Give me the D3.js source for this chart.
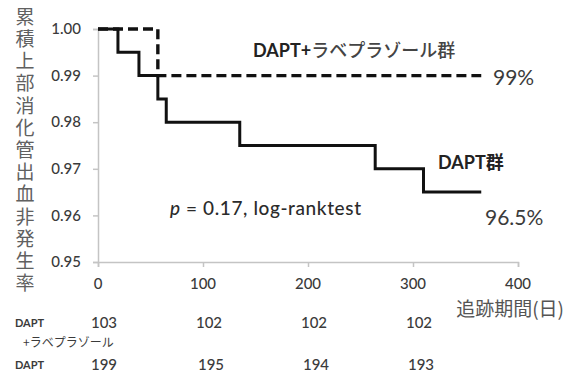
<!DOCTYPE html>
<html>
<head>
<meta charset="utf-8">
<script src="https://cdn.jsdelivr.net/npm/d3@7"></script>
<style>
  html, body { margin: 0; padding: 0; background: #fff; }
  svg { display: block; }
</style>
</head>
<body>
<svg id="chart" width="571" height="376"></svg>
<script>
// Kaplan–Meier curves: freedom from upper GI bleeding
const daptDays      = [0, 19, 39, 57, 65, 135, 264, 310, 365];
const daptSurv      = [1.000, 0.995, 0.990, 0.985, 0.980, 0.975, 0.970, 0.965, 0.965];
const comboDays     = [0, 57, 365];
const comboSurv     = [1.000, 0.990, 0.990];

const xTicks = [0, 100, 200, 300, 400];
const yTicks = [0.95, 0.96, 0.97, 0.98, 0.99, 1.00];

// numbers at risk
const riskDays  = [0, 100, 200, 300];
const riskCombo = [103, 102, 102, 102];
const riskDapt  = [199, 195, 194, 193];

const yTitle = "累積上部消化管出血非発生率";
const xTitle = "追跡期間(日)";

const svg = d3.select("#chart");
const latin = "Lato, 'Open Sans', sans-serif";
const cjk = "'Noto Sans CJK JP', sans-serif";
const textCol = "#3b3b3b";

const x = d3.scaleLinear().domain([0, 400]).range([98, 518]);
const y = d3.scaleLinear().domain([0.95, 1.00]).range([262, 29]);

// axes
const axisCol = "#c4c4c4";
const gx = svg.append("g").attr("transform", `translate(0,${y(0.95)})`)
  .call(d3.axisBottom(x).tickValues(xTicks).tickSize(5).tickFormat(""));
const gy = svg.append("g").attr("transform", `translate(${x(0)},0)`)
  .call(d3.axisLeft(y).tickValues(yTicks).tickSize(5).tickFormat(""));
[gx, gy].forEach(g => {
  g.selectAll("path, line").attr("stroke", axisCol).attr("stroke-width", 1.5);
});

// tick labels
svg.append("g").selectAll("text").data(yTicks).join("text")
  .attr("x", 81).attr("y", d => y(d)).attr("dy", "0.35em")
  .attr("text-anchor", "end")
  .attr("font-family", latin).attr("font-size", 15).attr("font-weight", 500)
  .attr("fill", textCol)
  .text(d => d3.format(".2f")(d));

svg.append("g").selectAll("text").data(xTicks).join("text")
  .attr("x", d => x(d)).attr("y", 284).attr("dy", "0.35em")
  .attr("text-anchor", "middle")
  .attr("font-family", latin).attr("font-size", 15).attr("font-weight", 500)
  .attr("fill", textCol)
  .text(d => d);

// axis titles
svg.append("text")
  .attr("x", 25).attr("y", 7)
  .attr("writing-mode", "vertical-rl")
  .attr("letter-spacing", 3.2)
  .attr("font-family", cjk).attr("font-size", 19).attr("fill", "#606060")
  .text(yTitle);

svg.append("text")
  .attr("x", 564).attr("y", 309).attr("dy", "0.35em")
  .attr("text-anchor", "end")
  .attr("font-family", cjk).attr("font-size", 19).attr("fill", "#555")
  .text(xTitle);

// survival curves
const step = d3.line().curve(d3.curveStepAfter)
  .x(d => x(d[0])).y(d => y(d[1]));

svg.append("path")
  .datum(d3.zip(daptDays, daptSurv))
  .attr("d", step).attr("fill", "none")
  .attr("stroke", "#111").attr("stroke-width", 3);

svg.append("path")
  .datum(d3.zip(comboDays, comboSurv))
  .attr("d", step).attr("fill", "none")
  .attr("stroke", "#111").attr("stroke-width", 3.4)
  .attr("stroke-dasharray", "10,5");

// curve labels
const comboLbl = svg.append("text")
  .attr("x", 253).attr("y", 51).attr("dy", "0.35em")
  .attr("font-size", 18).attr("fill", "#222");
comboLbl.append("tspan").attr("font-family", latin).attr("font-weight", 700).text("DAPT+");
comboLbl.append("tspan").attr("font-family", cjk).attr("font-weight", 500).attr("fill", "#444").text("ラベプラゾール群");

svg.append("text")
  .attr("x", 493).attr("y", 78).attr("dy", "0.35em")
  .attr("font-family", latin).attr("font-size", 21).attr("fill", textCol)
  .text(d3.format(".0%")(comboSurv[comboSurv.length - 1]));

const daptLbl = svg.append("text")
  .attr("x", 438).attr("y", 163).attr("dy", "0.35em")
  .attr("font-size", 18).attr("fill", "#222");
daptLbl.append("tspan").attr("font-family", latin).attr("font-weight", 700).text("DAPT");
daptLbl.append("tspan").attr("font-family", cjk).attr("font-weight", 700).text("群");

svg.append("text")
  .attr("x", 485).attr("y", 218).attr("dy", "0.35em")
  .attr("font-family", latin).attr("font-size", 21).attr("fill", textCol)
  .text(d3.format(".1%")(daptSurv[daptSurv.length - 1]));

const pLbl = svg.append("text")
  .attr("x", 170).attr("y", 208).attr("dy", "0.35em")
  .attr("font-family", latin).attr("font-size", 19).attr("font-weight", 500)
  .attr("letter-spacing", 0.6)
  .attr("fill", "#2b2b2b");
pLbl.append("tspan").attr("font-style", "italic").text("p");
pLbl.append("tspan").text(" = 0.17,  log-ranktest");

// numbers-at-risk table
const tbl = svg.append("g").attr("font-family", latin).attr("fill", textCol);
tbl.append("text").attr("x", 15).attr("y", 323).attr("dy", "0.35em")
  .attr("font-size", 11).attr("font-weight", 700).text("DAPT");
tbl.append("text").attr("x", 23).attr("y", 343).attr("dy", "0.35em")
  .attr("font-family", cjk).attr("font-size", 12).text("+ラベプラゾール");
tbl.append("text").attr("x", 15).attr("y", 365).attr("dy", "0.35em")
  .attr("font-size", 11).attr("font-weight", 700).text("DAPT");

tbl.append("g").selectAll("text").data(d3.zip(riskDays, riskCombo)).join("text")
  .attr("x", d => x(d[0]) + 6).attr("y", 323).attr("dy", "0.35em")
  .attr("text-anchor", "middle").attr("font-size", 15).attr("font-weight", 500)
  .text(d => d[1]);
tbl.append("g").selectAll("text").data(d3.zip(riskDays, riskDapt)).join("text")
  .attr("x", d => x(d[0]) + 6 + (d[0] === 0 ? 0 : 2)).attr("y", 365).attr("dy", "0.35em")
  .attr("text-anchor", "middle").attr("font-size", 15).attr("font-weight", 500)
  .text(d => d[1]);
</script>
</body>
</html>
